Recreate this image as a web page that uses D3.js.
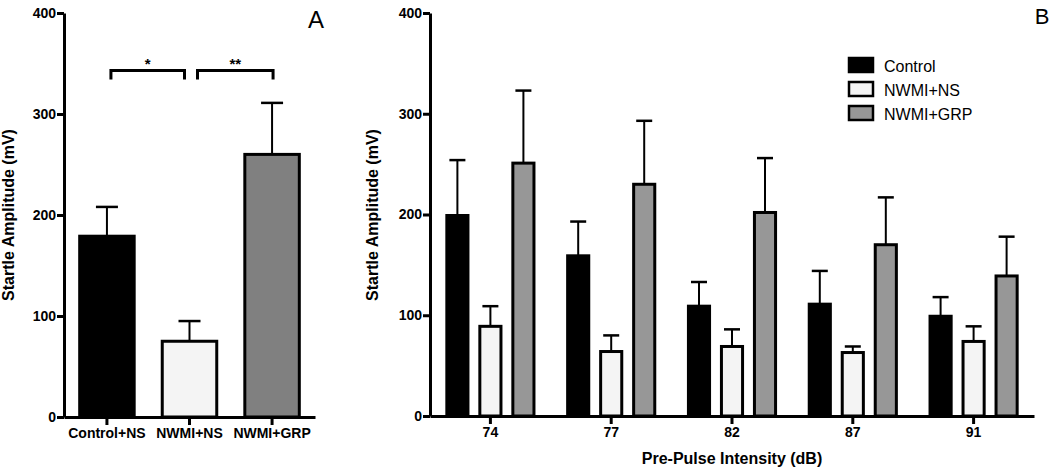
<!DOCTYPE html>
<html>
<head>
<meta charset="utf-8">
<script src="https://cdn.jsdelivr.net/npm/d3@7"></script>
<style>
  body { margin: 0; background: #fff; }
  svg text { font-family: "Liberation Sans", Arial, Helvetica, sans-serif; fill: #000; }
</style>
</head>
<body>
<div id="chart"></div>
<script>
// Panel A data
const groupsA = ['Control+NS', 'NWMI+NS', 'NWMI+GRP'];
const meansA = [179, 75, 260];
const errA = [29, 20, 51];
const sigPairs = [[0, 1, '*'], [1, 2, '**']];
const sigLevel = 343;

// Panel B data
const dbLevels = ['74', '77', '82', '87', '91'];
const seriesB = ['Control', 'NWMI+NS', 'NWMI+GRP'];
const controlMean = [199, 159, 109, 111, 99];
const controlErr = [55, 34, 24, 33, 19];
const nsMean = [89, 64, 69, 63, 74];
const nsErr = [20, 16, 17, 6, 15];
const grpMean = [251, 230, 202, 170, 139];
const grpErr = [72, 63, 54, 47, 39];

const yTicks = [0, 100, 200, 300, 400];

const colorsA = ['#000000', '#f4f4f4', '#808080'];
const colorsB = ['#000000', '#f4f4f4', '#979797'];

const W = 1050, H = 469;

const svg = d3.select('#chart')
  .append('svg')
  .attr('width', W)
  .attr('height', H);

function styleAxis(g) {
  g.select('.domain').attr('stroke', '#000').attr('stroke-width', 3);
  g.selectAll('.tick line').attr('stroke', '#000').attr('stroke-width', 3);
  g.selectAll('.tick text')
    .style('font-size', '14px')
    .style('font-weight', 'bold')
    .attr('fill', '#000');
}

function errorBar(g, cx, yTop, yMean, cap) {
  g.append('line')
    .attr('x1', cx).attr('x2', cx)
    .attr('y1', yMean).attr('y2', yTop)
    .attr('stroke', '#000').attr('stroke-width', 2);
  g.append('line')
    .attr('x1', cx - cap / 2).attr('x2', cx + cap / 2)
    .attr('y1', yTop).attr('y2', yTop)
    .attr('stroke', '#000').attr('stroke-width', 2.5);
}

// ---------- Panel A ----------
const xA = d3.scaleBand()
  .domain(groupsA)
  .range([64, 315])
  .paddingInner(0.34)
  .paddingOuter(0.19);

const yA = d3.scaleLinear()
  .domain([0, 400])
  .range([417, 13]);

const gA = svg.append('g');

groupsA.forEach((name, i) => {
  const cx = xA(name) + xA.bandwidth() / 2;
  errorBar(gA, cx, yA(meansA[i] + errA[i]), yA(meansA[i]), 22);
});

gA.selectAll('rect')
  .data(groupsA)
  .enter()
  .append('rect')
  .attr('x', d => xA(d))
  .attr('y', (d, i) => yA(meansA[i]))
  .attr('width', xA.bandwidth())
  .attr('height', (d, i) => yA(0) - yA(meansA[i]))
  .attr('fill', (d, i) => colorsA[i])
  .attr('stroke', '#000')
  .attr('stroke-width', 3);

// significance brackets (small insets so the two brackets don't touch)
const insets = [[4, -5], [8, 1]];
sigPairs.forEach(([a, b, label], i) => {
  const x1 = xA(groupsA[a]) + xA.bandwidth() / 2 + insets[i][0];
  const x2 = xA(groupsA[b]) + xA.bandwidth() / 2 + insets[i][1];
  const y = yA(sigLevel);
  gA.append('path')
    .attr('d', `M${x1},${y + 9}V${y}H${x2}V${y + 9}`)
    .attr('fill', 'none')
    .attr('stroke', '#000')
    .attr('stroke-width', 3);
  gA.append('text')
    .attr('x', (x1 + x2) / 2)
    .attr('y', y - 2)
    .attr('text-anchor', 'middle')
    .style('font-size', '15px')
    .style('font-weight', 'bold')
    .text(label);
});

gA.append('g')
  .attr('transform', `translate(0,${yA(0)})`)
  .call(d3.axisBottom(xA).tickSize(8).tickSizeOuter(0).tickPadding(3))
  .call(styleAxis);

gA.append('g')
  .attr('transform', 'translate(64,0)')
  .call(d3.axisLeft(yA).tickValues(yTicks).tickSize(7).tickSizeOuter(0).tickPadding(1))
  .call(styleAxis);

gA.append('text')
  .attr('transform', 'rotate(-90)')
  .attr('x', -215)
  .attr('y', 14)
  .attr('text-anchor', 'middle')
  .style('font-size', '16px')
  .style('font-weight', 'bold')
  .text('Startle Amplitude (mV)');

gA.append('text')
  .attr('x', 316)
  .attr('y', 28)
  .attr('text-anchor', 'middle')
  .style('font-size', '24px')
  .text('A');

// ---------- Panel B ----------
const meansB = [controlMean, nsMean, grpMean];
const errsB = [controlErr, nsErr, grpErr];

const x0 = d3.scaleBand()
  .domain(dbLevels)
  .range([430, 1034]);

const x1 = d3.scaleBand()
  .domain(seriesB)
  .range([0, x0.bandwidth()])
  .paddingInner(0.36)
  .paddingOuter(0.51);

const yB = d3.scaleLinear()
  .domain([0, 400])
  .range([416, 13]);

const gB = svg.append('g');

const barData = [];
dbLevels.forEach((lvl, j) => {
  seriesB.forEach((s, k) => {
    barData.push({ lvl: lvl, s: s, k: k, mean: meansB[k][j], err: errsB[k][j] });
  });
});

barData.forEach(d => {
  const cx = x0(d.lvl) + x1(d.s) + x1.bandwidth() / 2;
  errorBar(gB, cx, yB(d.mean + d.err), yB(d.mean), 16);
});

gB.selectAll('rect')
  .data(barData)
  .enter()
  .append('rect')
  .attr('x', d => x0(d.lvl) + x1(d.s))
  .attr('y', d => yB(d.mean))
  .attr('width', x1.bandwidth())
  .attr('height', d => yB(0) - yB(d.mean))
  .attr('fill', d => colorsB[d.k])
  .attr('stroke', '#000')
  .attr('stroke-width', 3);

gB.append('g')
  .attr('transform', `translate(0,${yB(0)})`)
  .call(d3.axisBottom(x0).tickSize(8).tickSizeOuter(0).tickPadding(3))
  .call(styleAxis);

gB.append('g')
  .attr('transform', 'translate(430,0)')
  .call(d3.axisLeft(yB).tickValues(yTicks).tickSize(7).tickSizeOuter(0).tickPadding(1))
  .call(styleAxis);

gB.append('text')
  .attr('transform', 'rotate(-90)')
  .attr('x', -215)
  .attr('y', 378)
  .attr('text-anchor', 'middle')
  .style('font-size', '16px')
  .style('font-weight', 'bold')
  .text('Startle Amplitude (mV)');

gB.append('text')
  .attr('x', 732)
  .attr('y', 464)
  .attr('text-anchor', 'middle')
  .style('font-size', '16px')
  .style('font-weight', 'bold')
  .text('Pre-Pulse Intensity (dB)');

gB.append('text')
  .attr('x', 1042)
  .attr('y', 24)
  .attr('text-anchor', 'middle')
  .style('font-size', '22px')
  .text('B');

// legend
const legend = gB.selectAll('.legend')
  .data(seriesB)
  .enter()
  .append('g')
  .attr('class', 'legend')
  .attr('transform', (d, i) => `translate(849,${58 + i * 24})`);

legend.append('rect')
  .attr('width', 24)
  .attr('height', 14)
  .attr('fill', (d, i) => colorsB[i])
  .attr('stroke', '#000')
  .attr('stroke-width', 2.5);

legend.append('text')
  .attr('x', 35)
  .attr('y', 14)
  .style('font-size', '16px')
  .text(d => d);
</script>
</body>
</html>
